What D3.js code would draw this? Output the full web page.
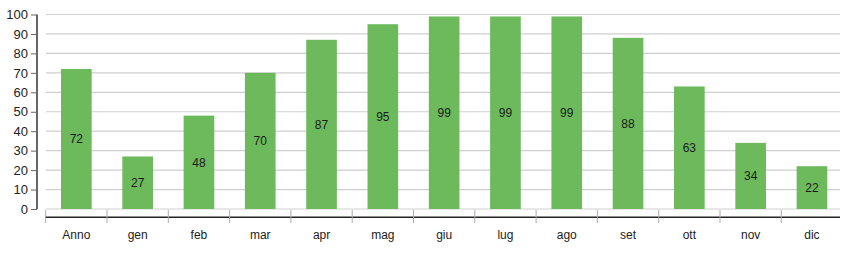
<!DOCTYPE html>
<html>
<head>
<meta charset="utf-8">
<script src="https://cdn.jsdelivr.net/npm/d3@7"></script>
<style>
  body { margin: 0; background: #fff; }
  svg { display: block; font-family: "Liberation Sans", Arial, sans-serif; }
</style>
</head>
<body>
<script>
let categories = ['Anno', 'gen', 'feb', 'mar', 'apr', 'mag', 'giu', 'lug', 'ago', 'set', 'ott', 'nov', 'dic']
let values = [72, 27, 48, 70, 87, 95, 99, 99, 99, 88, 63, 34, 22]
let yTicks = [0, 10, 20, 30, 40, 50, 60, 70, 80, 90, 100]

let width = 856, height = 258

let svg = d3.select('body').append('svg')
  .attr('width', width)
  .attr('height', height)

let x = d3.scaleBand()
  .domain(categories)
  .range([45.7, 45.7 + 61.3 * categories.length])
  .paddingInner(0.5)
  .paddingOuter(0.25)

let y = d3.scaleLinear()
  .domain([0, 100])
  .range([209, 14.5])

// gridlines
svg.append('g')
  .selectAll('line').data(yTicks).enter()
  .append('line')
  .attr('x1', 46).attr('x2', 840)
  .attr('y1', d => y(d)).attr('y2', d => y(d))
  .attr('stroke', '#cfcfcf')
  .attr('stroke-width', 1.2)

// y axis
let yAxis = svg.append('g')
  .attr('transform', 'translate(37,0)')
  .call(d3.axisLeft(y).tickValues(yTicks).tickSize(6).tickPadding(3))
yAxis.select('.domain').attr('stroke', '#333').attr('stroke-width', 1.5)
  .attr('d', `M0,${y(0)}V${y(100)}`)
yAxis.selectAll('.tick line').attr('stroke', '#666')
yAxis.selectAll('text').attr('font-size', 13).attr('fill', '#222')
  .attr('font-family', '"Liberation Sans", Arial, sans-serif')

// bars
svg.append('g')
  .selectAll('rect').data(values).enter()
  .append('rect')
  .attr('x', (d, i) => x(categories[i]))
  .attr('width', x.bandwidth())
  .attr('y', d => y(d))
  .attr('height', d => y(0) - y(d))
  .attr('fill', '#6cba5c')

// value labels
svg.append('g')
  .selectAll('text').data(values).enter()
  .append('text')
  .attr('x', (d, i) => x(categories[i]) + x.bandwidth() / 2)
  .attr('y', d => y(d / 2))
  .attr('dy', '0.35em')
  .attr('text-anchor', 'middle')
  .attr('font-size', 12)
  .attr('fill', '#1a1a1a')
  .text(d => d)

// x axis
let x0 = 45.7
svg.append('line')
  .attr('x1', 45).attr('x2', 840)
  .attr('y1', 217.3).attr('y2', 217.3)
  .attr('stroke', '#222').attr('stroke-width', 1.5)

svg.append('g')
  .selectAll('line').data(categories).enter()
  .append('line')
  .attr('x1', (d) => x(d) - x.step() * 0.25)
  .attr('x2', (d) => x(d) - x.step() * 0.25)
  .attr('y1', 210).attr('y2', 223)
  .attr('stroke', '#aaa')

svg.append('g')
  .selectAll('text').data(categories).enter()
  .append('text')
  .attr('x', d => x(d) + x.bandwidth() / 2)
  .attr('y', 239)
  .attr('text-anchor', 'middle')
  .attr('font-size', 12)
  .attr('fill', '#222')
  .text(d => d)
</script>
</body>
</html>
